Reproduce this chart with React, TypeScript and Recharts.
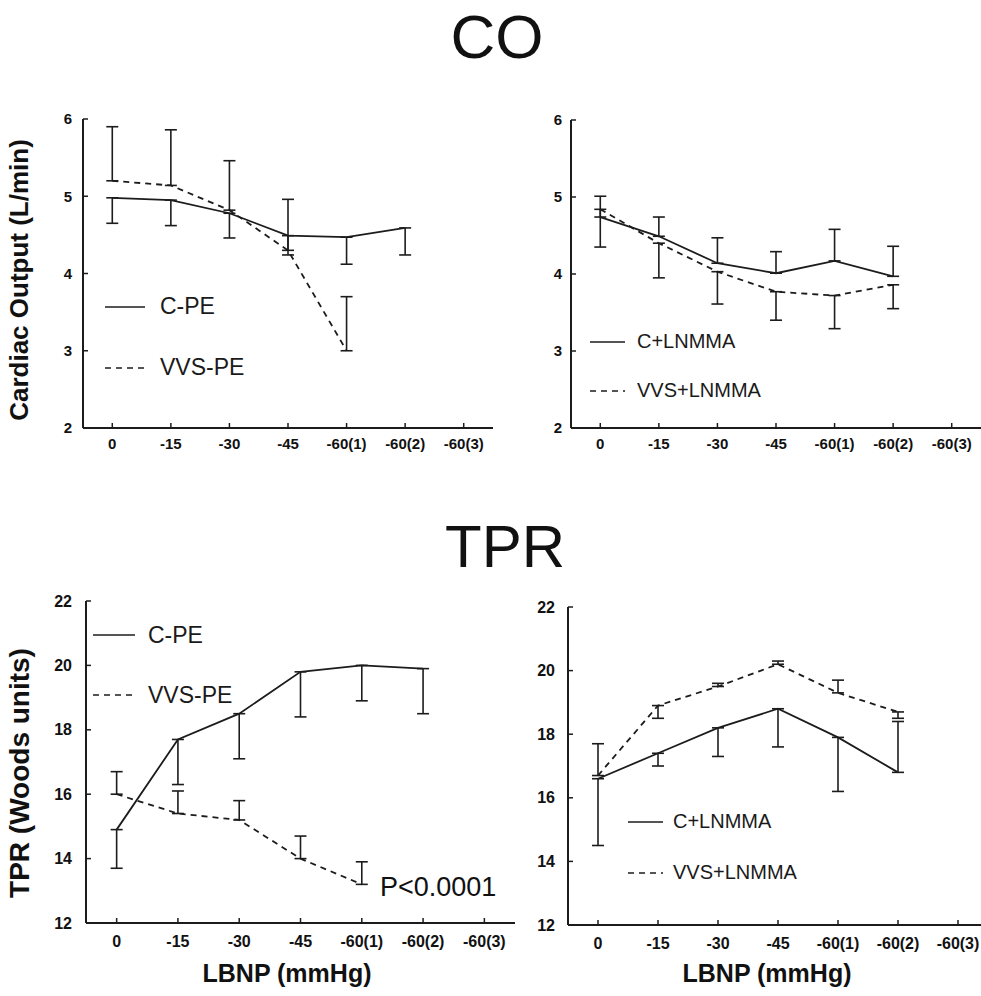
import React from "react";
import { LineChart, Line, XAxis, YAxis, ErrorBar, Legend } from "recharts";

// x categories (LBNP steps)
const categories = ["0", "-15", "-30", "-45", "-60(1)", "-60(2)", "-60(3)"];

// Cardiac output, left panel (bar end = value the error bar reaches)
const cpeCO = [4.98, 4.95, 4.78, 4.49, 4.47, 4.59];
const cpeCOErr = [4.65, 4.62, 4.46, 4.24, 4.12, 4.24];
const vvsCO = [5.2, 5.14, 4.82, 4.3, 3.0];
const vvsCOErr = [5.9, 5.86, 5.46, 4.96, 3.7];

// Cardiac output, right panel
const clnCO = [4.74, 4.49, 4.14, 4.01, 4.17, 3.97];
const clnCOErr = [5.01, 4.74, 4.47, 4.29, 4.58, 4.36];
const vlnCO = [4.84, 4.4, 4.03, 3.77, 3.72, 3.86];
const vlnCOErr = [4.35, 3.95, 3.61, 3.4, 3.29, 3.55];

// TPR, left panel
const cpeTPR = [14.9, 17.7, 18.5, 19.8, 20.0, 19.9];
const cpeTPRErr = [13.7, 16.3, 17.1, 18.4, 18.9, 18.5];
const vvsTPR = [16.0, 15.4, 15.2, 14.0, 13.2];
const vvsTPRErr = [16.7, 16.1, 15.8, 14.7, 13.9];

// TPR, right panel
const clnTPR = [16.6, 17.4, 18.2, 18.8, 17.9, 16.8];
const clnTPRErr = [14.5, 17.0, 17.3, 17.6, 16.2, 18.4];
const vlnTPR = [16.7, 18.9, 19.5, 20.2, 19.3, 18.7];
const vlnTPRErr = [17.7, 18.5, 19.6, 20.3, 19.7, 18.5];

const coTicks = [2, 3, 4, 5, 6];
const tprTicks = [12, 14, 16, 18, 20, 22];

const INK = "#1c1c1c";
const FONT = "Arial, 'Liberation Sans', sans-serif";
const xTicks = categories.map((_, i) => i);

// one-sided error bar: [minus, plus] deltas
const errPair = (v?: number, end?: number) => {
  if (v == null || end == null) return undefined;
  const d = end - v;
  return d < 0 ? [-d, 0] : [0, d];
};

const buildRows = (a: number[], aErr: number[], b: number[], bErr: number[]) =>
  categories.slice(0, 6).map((c, i) => ({
    x: i,
    cat: c,
    a: a[i],
    aErr: errPair(a[i], aErr[i]),
    b: b[i],
    bErr: errPair(b[i], bErr[i]),
  }));

interface PanelProps {
  left: number;
  top: number;
  width: number;
  height: number;
  margin: { top: number; right: number; bottom: number; left: number };
  rows: any[];
  domain: [number, number];
  yTicks: number[];
  fontSize: number;
  tickMargin: number;
  xTickMargin: number;
  names: [string, string];
  legendPos: { left: number; top: number; rowH: number; sample: number; gap: number; fontSize: number };
}

function Panel(p: PanelProps) {
  const tick = { fill: "#111", fontSize: p.fontSize, fontWeight: 700, fontFamily: FONT };
  const axisLine = { stroke: INK, strokeWidth: 2 };
  const tickLine = { stroke: INK, strokeWidth: 1.5 };
  const dashes = ["", "6 5"];

  const renderLegend = (props: any) => {
    const items = props.payload || [];
    const lp = p.legendPos;
    return (
      <div style={{ fontFamily: FONT, fontSize: lp.fontSize, color: "#1a1a1a" }}>
        {items.map((it: any, i: number) => (
          <div key={i} style={{ display: "flex", alignItems: "center", height: lp.rowH }}>
            <svg width={lp.sample} height={4} style={{ marginRight: lp.gap }}>
              <line x1={0} y1={2} x2={lp.sample} y2={2} stroke={INK} strokeWidth={1.7}
                strokeDasharray={dashes[i]} />
            </svg>
            <span>{it.value}</span>
          </div>
        ))}
      </div>
    );
  };

  return (
    <div style={{ position: "absolute", left: p.left, top: p.top }}>
      <LineChart width={p.width} height={p.height} data={p.rows} margin={p.margin}>
        <XAxis type="number" dataKey="x" domain={[-0.5, 6.5]} ticks={xTicks} interval={0}
          tickFormatter={(i: number) => categories[i]} height={30}
          tick={tick} axisLine={axisLine} tickLine={tickLine}
          tickSize={-5} tickMargin={p.xTickMargin} />
        <YAxis type="number" domain={p.domain} ticks={p.yTicks} interval={0} width={40}
          tick={tick} axisLine={axisLine} tickLine={tickLine}
          tickSize={-5} tickMargin={p.tickMargin} allowDataOverflow />
        <Legend layout="vertical" verticalAlign="middle" align="center" content={renderLegend}
          wrapperStyle={{ left: p.legendPos.left, top: p.legendPos.top, width: "auto" }} />
        <Line dataKey="a" name={p.names[0]} stroke={INK} strokeWidth={1.8} dot={false}
          isAnimationActive={false}>
          <ErrorBar dataKey="aErr" direction="y" width={6} stroke={INK} strokeWidth={1.6} />
        </Line>
        <Line dataKey="b" name={p.names[1]} stroke={INK} strokeWidth={1.8} strokeDasharray="6 5"
          dot={false} isAnimationActive={false}>
          <ErrorBar dataKey="bErr" direction="y" width={6} stroke={INK} strokeWidth={1.6} />
        </Line>
      </LineChart>
    </div>
  );
}

export default function App() {
  return (
    <div style={{ position: "absolute", left: 0, top: 0, width: 981, height: 996, overflow: "hidden", background: "#fff" }}>
      <Panel left={0} top={100} width={500} height={360}
        margin={{ top: 19, right: 7, bottom: 2, left: 43 }}
        rows={buildRows(cpeCO, cpeCOErr, vvsCO, vvsCOErr)}
        domain={[2, 6]} yTicks={coTicks} fontSize={15} tickMargin={16} xTickMargin={15}
        names={["C-PE", "VVS-PE"]}
        legendPos={{ left: 105, top: 176, rowH: 61, sample: 40, gap: 15, fontSize: 23 }} />
      <Panel left={490} top={100} width={491} height={360}
        margin={{ top: 20, right: 0, bottom: 2, left: 41 }}
        rows={buildRows(clnCO, clnCOErr, vlnCO, vlnCOErr)}
        domain={[2, 6]} yTicks={coTicks} fontSize={15} tickMargin={14} xTickMargin={15}
        names={["C+LNMMA", "VVS+LNMMA"]}
        legendPos={{ left: 100, top: 217, rowH: 49, sample: 35, gap: 12, fontSize: 20 }} />
      <Panel left={0} top={580} width={520} height={400}
        margin={{ top: 21, right: 5, bottom: 27, left: 46 }}
        rows={buildRows(cpeTPR, cpeTPRErr, vvsTPR, vvsTPRErr)}
        domain={[12, 22]} yTicks={tprTicks} fontSize={16} tickMargin={19} xTickMargin={18}
        names={["C-PE", "VVS-PE"]}
        legendPos={{ left: 93, top: 25, rowH: 60, sample: 42, gap: 13, fontSize: 23 }} />
      <Panel left={490} top={580} width={498} height={400}
        margin={{ top: 27, right: 0, bottom: 25, left: 38 }}
        rows={buildRows(clnTPR, clnTPRErr, vlnTPR, vlnTPRErr)}
        domain={[12, 22]} yTicks={tprTicks} fontSize={16} tickMargin={18} xTickMargin={18}
        names={["C+LNMMA", "VVS+LNMMA"]}
        legendPos={{ left: 138, top: 216, rowH: 51, sample: 35, gap: 10, fontSize: 20 }} />

      <svg width={981} height={996} style={{ position: "absolute", left: 0, top: 0, pointerEvents: "none" }}
        fontFamily={FONT} fill="#111">
        <text x={497} y={58} fontSize={62} textAnchor="middle">CO</text>
        <text x={505} y={567} fontSize={60} textAnchor="middle">TPR</text>
        <text transform="translate(28,280) rotate(-90)" fontSize={26} fontWeight={700} textAnchor="middle">
          Cardiac Output (L/min)
        </text>
        <text transform="translate(29,773) rotate(-90)" fontSize={28} fontWeight={700} textAnchor="middle">
          TPR (Woods units)
        </text>
        <text x={287} y={982} fontSize={25} fontWeight={700} textAnchor="middle">LBNP (mmHg)</text>
        <text x={767} y={982} fontSize={25} fontWeight={700} textAnchor="middle">LBNP (mmHg)</text>
        <text x={380} y={896} fontSize={27}>P&lt;0.0001</text>
      </svg>
    </div>
  );
}
